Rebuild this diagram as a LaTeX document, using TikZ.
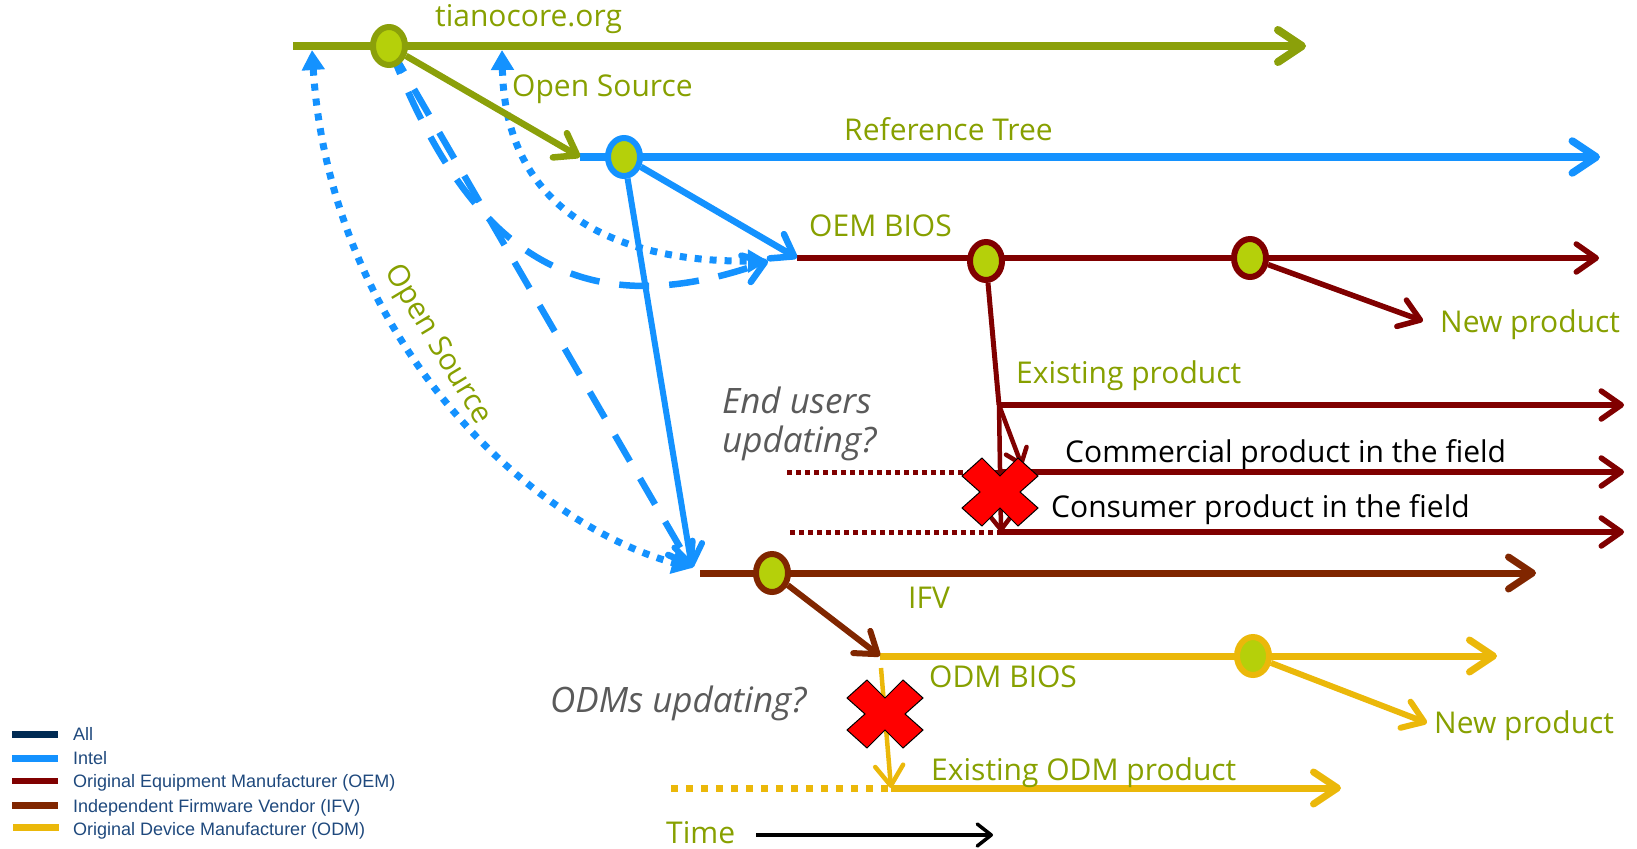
\documentclass[tikz,border=0pt]{standalone}
\usepackage{fontspec}
\setmainfont{Open Sans}
\newfontfamily\legendfont{Liberation Sans}
\usetikzlibrary{arrows.meta,shapes.geometric}
\definecolor{cOlive}{RGB}{139,160,10}
\definecolor{cText}{RGB}{135,160,0}
\definecolor{cLime}{RGB}{181,208,10}
\definecolor{cBlue}{RGB}{20,146,255}
\definecolor{cOEM}{RGB}{128,0,0}
\definecolor{cIFV}{RGB}{128,38,0}
\definecolor{cODM}{RGB}{235,184,10}
\definecolor{cGray}{RGB}{90,90,90}
\definecolor{cNavy}{RGB}{31,73,125}
\definecolor{cAll}{RGB}{0,43,84}
\definecolor{cRed}{RGB}{255,0,0}
\tikzset{
  bigb/.tip={Straight Barb[round,length=24pt,width=32pt]},
  midb/.tip={Straight Barb[round,length=20pt,width=28pt]},
  smlb/.tip={Straight Barb[round,length=14pt,width=22pt]},
  trib/.tip={Triangle[length=20pt,width=22pt]},
  tiano/.style={draw=cOlive, line width=8pt},
  intel/.style={draw=cBlue, line width=7.5pt},
  oem/.style={draw=cOEM, line width=5.5pt},
  ifv/.style={draw=cIFV, line width=7pt},
  odm/.style={draw=cODM, line width=7pt},
  bdot/.style={draw=cBlue, line width=7pt, dash pattern=on 7pt off 8pt},
  bdash/.style={draw=cBlue, line width=6.5pt, dash pattern=on 30pt off 20pt},
  odot/.style={draw=cOEM, line width=5pt, dash pattern=on 5pt off 4pt},
  ydot/.style={draw=cODM, line width=7pt, dash pattern=on 7pt off 8pt},
  dotnode/.style={ellipse, draw, line width=6pt, fill=cLime, minimum width=32pt, minimum height=38pt, inner sep=0pt},
  lbl/.style={text=cText, font=\fontsize{30}{36}\selectfont, inner sep=0pt, anchor=base west},
  ask/.style={text=cGray, font=\fontsize{35}{42}\selectfont\itshape, inner sep=0pt, anchor=base west},
  blk/.style={text=black, font=\fontsize{30}{36}\selectfont, inner sep=0pt, anchor=base west},
  leg/.style={text=cNavy, font=\legendfont\fontsize{18}{22}\selectfont, inner sep=0pt, anchor=base west},
  xcross/.pic={\path[fill=cRed, draw=black, line width=1pt]
    (0,-16) -- (18,-34) -- (38,-16) -- (20,0) -- (38,16) -- (18,34) -- (0,16)
    -- (-18,34) -- (-38,16) -- (-20,0) -- (-38,-16) -- (-18,-34) -- cycle;}
}
\begin{document}
\begin{tikzpicture}[x=1pt,y=-1pt]
\useasboundingbox (0,0) rectangle (1637,848);
% coordinates
\coordinate (tS) at (293,46); \coordinate (tCc) at (389,46); \coordinate (tE) at (1306,46);
\coordinate (rS) at (580,157); \coordinate (rCc) at (624,157); \coordinate (rE) at (1600,157);
\coordinate (oS) at (797,258); \coordinate (oC1c) at (986,261); \coordinate (oC2c) at (1250,258); \coordinate (oE) at (1599,258);
\coordinate (j) at (999,405); \coordinate (exE) at (1624,405);
\coordinate (cmS) at (1001,472); \coordinate (cmE) at (1624,472); \coordinate (cmD) at (787,472); \coordinate (cmT) at (1022,466);
\coordinate (csS) at (1001,532); \coordinate (csE) at (1624,532); \coordinate (csD) at (790,532);
\coordinate (np1) at (1423,321);
\coordinate (iS) at (700,573); \coordinate (iCc) at (772,573); \coordinate (iE) at (1536,573);
\coordinate (dS) at (880,656); \coordinate (dCc) at (1253,656); \coordinate (dE) at (1497,656);
\coordinate (np2) at (1427,723);
\coordinate (dV) at (881,668); \coordinate (eoS) at (891,788); \coordinate (eoE) at (1341,788); \coordinate (eoD) at (671,788);
\coordinate (tmS) at (756,835); \coordinate (tmE) at (993,835);
\coordinate (up1) at (312,50); \coordinate (up2) at (502,50);
\coordinate (iT) at (692,568); \coordinate (oT) at (768,261);

% blue open-source / dashed flows
\draw[bdot, trib-trib] (up1) .. controls (330,330) and (520,520) .. (iT);
\draw[bdot, trib-trib] (up2) .. controls (505,200) and (600,262) .. (oT);
\draw[bdash, -midb] (tCc) -- (iT);
\draw[bdash, -midb] (tCc) .. controls (460,230) and (560,335) .. (oT);

% main lines
\draw[tiano, -bigb] (tS) -- (tE);
\draw[intel, -bigb] (rS) -- (rE);
\draw[oem, -midb] (oS) -- (oE);
\draw[odot] (cmD) -- (cmS);
\draw[odot] (csD) -- (csS);
\draw[oem, -midb] (j) -- (exE);
\draw[oem, -midb] (cmS) -- (cmE);
\draw[oem, -midb] (csS) -- (csE);
\draw[ifv, -bigb] (iS) -- (iE);
\draw[odm, -bigb] (dS) -- (dE);
\draw[ydot] (eoD) -- (eoS);
\draw[odm, -bigb] (eoS) -- (eoE);

% circles
\node[dotnode, draw=cOlive] (tC) at (tCc) {};
\node[dotnode, draw=cBlue] (rC) at (rCc) {};
\node[dotnode, draw=cOEM] (oC1) at (oC1c) {};
\node[dotnode, draw=cOEM] (oC2) at (oC2c) {};
\node[dotnode, draw=cIFV] (iC) at (iCc) {};
\node[dotnode, draw=cODM] (dC) at (dCc) {};

% branch connectors
\draw[tiano, line width=6.5pt, -midb] (tC) -- (rS);
\draw[intel, line width=6.5pt, -midb] (rC) -- (oS);
\draw[intel, line width=6pt, -midb] (rC) -- (iT);
\draw[oem, -midb] (oC2) -- (np1);
\draw[oem, line width=5pt] (oC1) -- (j);
\draw[oem, line width=4.5pt, -smlb] (j) -- (csS);
\draw[oem, line width=4.5pt, -smlb] (j) -- (cmT);
\draw[ifv, line width=6pt, -midb] (iC) -- (dS);
\draw[odm, line width=6pt, -midb] (dC) -- (np2);
\draw[odm, line width=4.5pt, -midb] (dV) -- (eoS);
\draw[black, line width=3.5pt, -smlb] (tmS) -- (tmE);

% crosses
\pic at (1000,492) {xcross};
\pic at (885,714) {xcross};

% labels
\node[lbl] (l1) at (435,27) {tianocore.org};
\node[lbl] (l2) at (512,97) {Open Source};
\node[lbl] (l3) at (844,140) {Reference Tree};
\node[lbl] (l4) at (809,236) {OEM BIOS};
\node[lbl] (l5) at (1440,332) {New product};
\node[lbl] (l6) at (1016,383) {Existing product};
\node[ask] (l7) at (722,413) {End users};
\node[ask] (l8) at (722,452) {updating?};
\node[blk] (l9) at (1065,462) {Commercial product in the field};
\node[blk] (l10) at (1051,517) {Consumer product in the field};
\node[lbl] (l11) at (908,608) {IFV};
\node[lbl] (l12) at (929,687) {ODM BIOS};
\node[lbl] (l13) at (1434,733) {New product};
\node[ask] (l14) at (550,712) {ODMs updating?};
\node[lbl] (l15) at (931,780) {Existing ODM product};
\node[lbl] (l16) at (666,843) {Time};
\node[text=cText, font=\fontsize{30}{36}\selectfont, inner sep=0pt, rotate=-59] (l17) at (437,345) {Open Source};

% legend
\draw[cAll, line width=7pt] (12,734) -- (58,734);
\draw[cBlue, line width=7pt] (12,758) -- (58,758);
\draw[cOEM, line width=6pt] (12,781) -- (58,781);
\draw[cIFV, line width=7pt] (12,805) -- (58,805);
\draw[cODM, line width=7pt] (13,827) -- (59,827);
\node[leg] (g1) at (73,740) {All};
\node[leg] (g2) at (73,764) {Intel};
\node[leg] (g3) at (73,787) {Original Equipment Manufacturer (OEM)};
\node[leg] (g4) at (73,812) {Independent Firmware Vendor (IFV)};
\node[leg] (g5) at (73,835) {Original Device Manufacturer (ODM)};
\end{tikzpicture}
\end{document}
